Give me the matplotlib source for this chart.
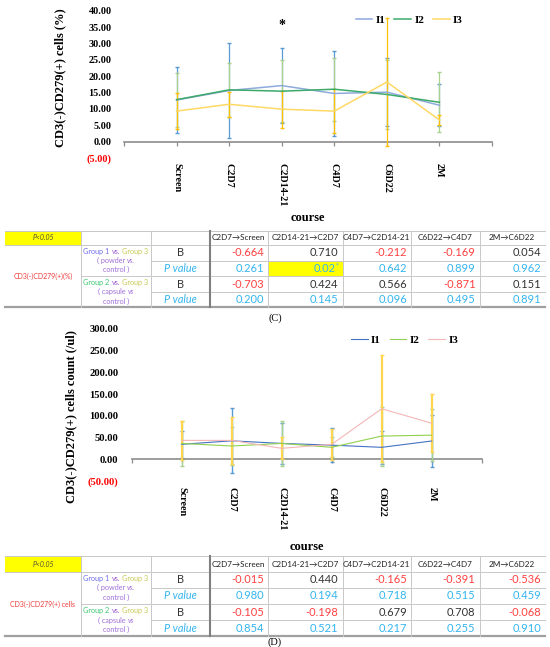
import matplotlib
matplotlib.use("Agg")
import matplotlib.pyplot as plt
import numpy as np
from matplotlib.patches import Rectangle

categories = ["Screen", "C2D7", "C2D14-21", "C4D7", "C6D22", "2M"]
series_names = ["I1", "I2", "I3"]

# chart C: CD3(-)CD279(+) cells (%)
pct_i1 = [12.7, 15.6, 17.1, 14.7, 15.1, 11.1]
pct_i2 = [12.8, 15.8, 15.4, 16.0, 14.4, 12.0]
pct_i3 = [9.3, 11.4, 9.9, 9.3, 18.2, 6.6]
pct_i1_sd = [10.2, 14.4, 11.5, 12.9, 10.5, 6.4]
pct_i2_sd = [8.3, 8.2, 9.5, 9.6, 10.6, 9.2]
pct_i3_sd = [5.4, 3.8, 5.7, 6.7, 19.5, 1.5]

# chart D: CD3(-)CD279(+) cells count (/ul)
cnt_i1 = [34, 42, 36, 32, 27, 41.6]
cnt_i2 = [36, 30, 36, 27, 53, 55]
cnt_i3 = [43, 43, 24.7, 34, 116, 82.6]
cnt_i1_sd = [31, 75, 48, 40, 38, 59]
cnt_i2_sd = [51, 44, 52, 23, 68, 60]
cnt_i3_sd = [45, 55, 25, 36, 124, 67]

# tables
table_cols = ["C2D7\u2192Screen", "C2D14-21\u2192C2D7", "C4D7\u2192C2D14-21",
              "C6D22\u2192C4D7", "2M\u2192C6D22"]
pct_b1 = [-0.664, 0.710, -0.212, -0.169, 0.054]
pct_p1 = [0.261, 0.02, 0.642, 0.899, 0.962]
pct_b2 = [-0.703, 0.424, 0.566, -0.871, 0.151]
pct_p2 = [0.200, 0.145, 0.096, 0.495, 0.891]
cnt_b1 = [-0.015, 0.440, -0.165, -0.391, -0.536]
cnt_p1 = [0.980, 0.194, 0.718, 0.515, 0.459]
cnt_b2 = [-0.105, -0.198, 0.679, 0.708, -0.068]
cnt_p2 = [0.854, 0.521, 0.217, 0.255, 0.910]

W, H = 550, 647
fig = plt.figure(figsize=(5.5, 6.47), dpi=100)
serif = "Liberation Serif"
sans = ["Lato", "DejaVu Sans"]


def px_box(left, top, right, bottom):
    return [left / W, 1 - bottom / H, (right - left) / W, (bottom - top) / H]


def draw_chart(box, means, sds, line_cols, bar_cols, line_w, bar_w, ylim, ystep,
               ysize, ypad, xpad, legend_xy):
    ax = fig.add_axes(box)
    x = list(range(1, len(categories) + 1))
    for k in range(3):
        ax.errorbar(x, means[k], yerr=sds[k], fmt="none", ecolor=bar_cols[k],
                    elinewidth=bar_w[k], capsize=1.6, capthick=1.0, zorder=2 + k)
    for k in range(3):
        ax.plot(x, means[k], color=line_cols[k], lw=line_w, label=series_names[k],
                zorder=6 + k)
    ax.set_xlim(0, 7)
    ax.set_ylim(*ylim)
    for s in ["top", "right", "left"]:
        ax.spines[s].set_visible(False)
    ax.spines["bottom"].set_position(("data", 0))
    ax.spines["bottom"].set_color("#8c8c8c")
    ax.spines["bottom"].set_linewidth(1.2)
    ax.set_xticks(range(0, 8))
    ax.set_xticklabels([""] + categories + [""], rotation=-90, family=serif,
                       fontweight="bold", fontsize=7.3)
    ax.tick_params(axis="x", direction="out", length=3, width=0.9, color="#8c8c8c",
                   pad=xpad)
    yt = np.arange(ylim[0], ylim[1] + 0.01, ystep)
    ax.set_yticks(yt)
    ax.set_yticklabels([f"({abs(v):.2f})" if v < 0 else f"{v:.2f}" for v in yt],
                       family=serif, fontweight="bold", fontsize=ysize)
    ax.tick_params(axis="y", length=0, pad=ypad)
    for lab, v in zip(ax.get_yticklabels(), yt):
        if v < 0:
            lab.set_color("red")
    ax.patch.set_alpha(0)
    ax.legend(loc="center", bbox_to_anchor=legend_xy, ncol=3, frameon=False,
              prop={"family": serif, "weight": "bold", "size": 8},
              handlelength=1.5, handletextpad=0.3, columnspacing=0.8)
    return ax


ax1 = draw_chart(px_box(124, 10.7, 492, 157.9),
                 [pct_i1, pct_i2, pct_i3], [pct_i1_sd, pct_i2_sd, pct_i3_sd],
                 ["#8faadc", "#3daa6a", "#ffd966"], ["#5b9bd5", "#a9d18e", "#ffc000"],
                 1.1, [0.9, 0.9, 0.9], (-5, 40), 5, 7.3, 8.9, 12.5, (0.775, 0.937))
ax1.text(3, 35.6, "*", ha="center", va="center", family=serif, fontweight="bold",
         fontsize=10)
fig.text(60 / W, 1 - 78 / H, "CD3(-)CD279(+) cells (%)", rotation=90, ha="center",
         va="center", family=serif, fontweight="bold", fontsize=9)
fig.text(308 / W, 1 - 218 / H, "course", ha="center", va="center", family=serif,
         fontweight="bold", fontsize=9)

ax2 = draw_chart(px_box(131.7, 329, 481.7, 480.7),
                 [cnt_i1, cnt_i2, cnt_i3], [cnt_i1_sd, cnt_i2_sd, cnt_i3_sd],
                 ["#4472c4", "#92d050", "#f4b6b6"], ["#5b9bd5", "#a9d18e", "#ffd54f"],
                 0.8, [1.0, 1.0, 1.6], (-50, 300), 50, 7.6, 9.7, 17, (0.78, 0.927))
fig.text(71.7 / W, 1 - 417 / H, "CD3(-)CD279(+) cells count (/ul)", rotation=90,
         ha="center", va="center", family=serif, fontweight="bold", fontsize=9)
fig.text(307 / W, 1 - 547 / H, "course", ha="center", va="center", family=serif,
         fontweight="bold", fontsize=9)

fig.text(275 / W, 1 - 318 / H, "(C)", ha="center", va="center", family=serif,
         fontsize=7.5)
fig.text(275 / W, 1 - 642 / H, "(D)", ha="center", va="center", family=serif,
         fontsize=7.5)

# tables drawn in pixel coordinates
axt = fig.add_axes([0, 0, 1, 1])
axt.set_xlim(0, W)
axt.set_ylim(H, 0)
axt.axis("off")
renderer = fig.canvas.get_renderer()

purple = "#a070d8"
group_lines = {
    1: [[("Group 1", "#6e6ef0", "normal"), ("vs.", "#9b59d0", "normal"), ("Group 3", "#c8c850", "normal")],
        [("( powder", purple, "normal"), ("vs.", purple, "italic")],
        [("control )", purple, "normal")]],
    2: [[("Group 2", "#3cc870", "normal"), ("vs.", "#9b59d0", "normal"), ("Group 3", "#c8c850", "normal")],
        [("( capsule", purple, "normal"), ("vs", purple, "italic")],
        [("control )", purple, "normal")]],
}


def rich_line(xc, y, parts, size):
    texts, widths = [], []
    for s, c, st in parts:
        t = axt.text(0, y, s, color=c, fontsize=size, fontstyle=st, family=sans,
                     ha="left", va="center")
        texts.append(t)
        widths.append(t.get_window_extent(renderer).width)
    gap = size * 0.3 * 100 / 72
    x = xc - (sum(widths) + gap * (len(parts) - 1)) / 2
    for t, w in zip(texts, widths):
        t.set_x(x)
        x += w + gap


def draw_table(top, head_h, row_h, row_label, b1, p1, b2, p2):
    cols = [5, 81, 150.7, 209.5, 268, 342.5, 411, 479.5, 545]
    ys = [top, top + head_h] + [top + head_h + row_h * i for i in range(1, 5)]
    light = "#c8c8c8"
    axt.add_patch(Rectangle((cols[0], ys[0]), cols[1] - cols[0], head_h,
                            facecolor="#ffff00", lw=0))
    axt.text((cols[0] + cols[1]) / 2, ys[0] + head_h / 2, "P<0.05", fontsize=5,
             fontstyle="italic", family=sans, color="#555533", ha="center", va="center")
    for j, name in enumerate(table_cols):
        axt.text((cols[3 + j] + cols[4 + j]) / 2, ys[0] + head_h / 2, name, fontsize=5.9,
                 family=sans, color="#222222", ha="center", va="center")
    axt.text((cols[0] + cols[1]) / 2, (ys[1] + ys[5]) / 2, row_label, fontsize=5,
             family=sans, color="#f03c3c", ha="center", va="center")
    for g in (1, 2):
        yc = (ys[2 * g - 1] + ys[2 * g + 1]) / 2
        for i, parts in enumerate(group_lines[g]):
            rich_line((cols[1] + cols[2]) / 2, yc + (i - 1) * 9.2, parts, 5.2)
    rows = [b1, p1, b2, p2]
    for r, vals in enumerate(rows):
        yc = (ys[r + 1] + ys[r + 2]) / 2
        is_p = r % 2 == 1
        if is_p:
            axt.text((cols[2] + cols[3]) / 2, yc, "P value", fontsize=7.8,
                     fontstyle="italic", family=sans, color="#33b5f0",
                     ha="center", va="center")
        else:
            axt.text((cols[2] + cols[3]) / 2, yc, "B", fontsize=7.8, family=sans,
                     color="#333333", ha="center", va="center")
        for j, v in enumerate(vals):
            xr = cols[4 + j] - 4
            if is_p:
                color = "#33b5f0"
                if v < 0.05:
                    axt.add_patch(Rectangle((cols[3 + j], ys[r + 1]),
                                            cols[4 + j] - cols[3 + j], row_h,
                                            facecolor="#ffff00", lw=0))
                    axt.text(xr, yc - 2, "*", fontsize=5, family=sans, color=color,
                             ha="right", va="center")
                    axt.text(xr - 3, yc, f"{v:.2f}", fontsize=8, family=sans,
                             color=color, ha="right", va="center")
                    continue
            else:
                color = "#ff4040" if v < 0 else "#333333"
            axt.text(xr, yc, f"{v:.3f}", fontsize=8, family=sans, color=color,
                     ha="right", va="center")
    # grid lines
    axt.plot([cols[0], cols[-1]], [ys[0], ys[0]], color=light, lw=0.7)
    axt.plot([cols[0], cols[-1]], [ys[1], ys[1]], color=light, lw=0.7)
    axt.plot([cols[2], cols[-1]], [ys[2], ys[2]], color=light, lw=0.7)
    axt.plot([cols[1], cols[-1]], [ys[3], ys[3]], color=light, lw=0.7)
    axt.plot([cols[2], cols[-1]], [ys[4], ys[4]], color=light, lw=0.7)
    axt.plot([cols[0], cols[-1]], [ys[5], ys[5]], color="#a0a0a0", lw=1.6)
    for k, xc in enumerate(cols[1:-1], start=1):
        if k == 3:
            axt.plot([xc, xc], [ys[0], ys[5]], color="#7f7f7f", lw=1.5)
        else:
            axt.plot([xc, xc], [ys[0], ys[5]], color=light, lw=0.7)


draw_table(230.7, 14.3, 15.6, "CD3(-)CD279(+)(%)", pct_b1, pct_p1, pct_b2, pct_p2)
draw_table(556.3, 15.5, 16.1, "CD3(-)CD279(+) cells", cnt_b1, cnt_p1, cnt_b2, cnt_p2)

fig.savefig("out.png", dpi=100)
